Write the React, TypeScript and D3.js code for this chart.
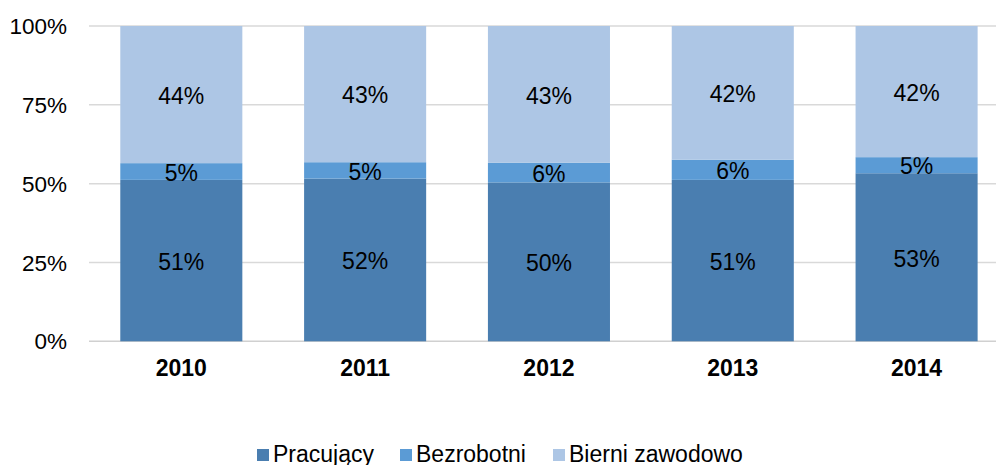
import React, { useEffect, useRef } from "react";
import * as d3 from "d3";

const years = ["2010", "2011", "2012", "2013", "2014"];
const pracujacy = [51.2, 51.6, 50.4, 51.2, 53.3];
const bezrobotni = [5.3, 5.2, 6.2, 6.4, 5.1];
const bierni = [43.5, 43.2, 43.4, 42.4, 41.6];
const seriesNames = ["Pracujący", "Bezrobotni", "Bierni zawodowo"];
const colors = ["#4a7eb0", "#5b9bd5", "#adc6e5"];
const yTicks = [0, 25, 50, 75, 100];

export default function App() {
  const svgRef = useRef<SVGSVGElement>(null);
  const W = 996;
  const H = 465;

  useEffect(() => {
    const svg = d3.select(svgRef.current);
    svg.selectAll("*").remove();
    const font = "'Liberation Sans', Arial, sans-serif";

    const rows = years.map((y, i) => ({
      year: y,
      p: pracujacy[i],
      b: bezrobotni[i],
      z: bierni[i],
    }));
    const keys = ["p", "b", "z"];
    const stacked = d3.stack<any>().keys(keys)(rows);

    const x = d3
      .scaleBand()
      .domain(years)
      .range([89.4, 1008.5])
      .paddingInner(0.336)
      .paddingOuter(0.168);
    const y = d3.scaleLinear().domain([0, 100]).range([341.3, 26]);

    // gridlines
    svg
      .append("g")
      .selectAll("line")
      .data(yTicks)
      .enter()
      .append("line")
      .attr("x1", 89)
      .attr("x2", W)
      .attr("y1", (d) => y(d))
      .attr("y2", (d) => y(d))
      .attr("stroke", (d) => (d === 0 ? "#d0d0d0" : "#d9d9d9"))
      .attr("stroke-width", 1.5);

    svg
      .append("g")
      .selectAll("text")
      .data(yTicks)
      .enter()
      .append("text")
      .attr("x", 67)
      .attr("y", (d) => y(d))
      .attr("dy", "0.36em")
      .attr("text-anchor", "end")
      .style("font-family", font)
      .style("font-size", "22.5px")
      .style("fill", "#000")
      .text((d) => d + "%");

    const layers = svg
      .append("g")
      .selectAll("g")
      .data(stacked)
      .enter()
      .append("g")
      .attr("fill", (_d, i) => colors[i]);

    layers
      .selectAll("rect")
      .data((d) => d)
      .enter()
      .append("rect")
      .attr("x", (d: any) => x(d.data.year)!)
      .attr("width", x.bandwidth())
      .attr("y", (d) => y(d[1]))
      .attr("height", (d) => y(d[0]) - y(d[1]));

    layers
      .selectAll("text")
      .data((d) => d)
      .enter()
      .append("text")
      .attr("x", (d: any) => x(d.data.year)! + x.bandwidth() / 2)
      .attr("y", (d) => (y(d[0]) + y(d[1])) / 2 + 1)
      .attr("dy", "0.36em")
      .attr("text-anchor", "middle")
      .style("font-family", font)
      .style("font-size", "23px")
      .style("fill", "#000")
      .text((d) => Math.round(d[1] - d[0]) + "%");

    svg
      .append("g")
      .selectAll("text")
      .data(years)
      .enter()
      .append("text")
      .attr("x", (d) => x(d)! + x.bandwidth() / 2)
      .attr("y", 368)
      .attr("dy", "0.36em")
      .attr("text-anchor", "middle")
      .style("font-family", font)
      .style("font-size", "23px")
      .style("font-weight", "bold")
      .style("fill", "#000")
      .text((d) => d);

    // legend
    const legendX = [257, 400, 553];
    const legend = svg
      .append("g")
      .selectAll("g")
      .data(seriesNames)
      .enter()
      .append("g")
      .attr("transform", (_d, i) => `translate(${legendX[i]},0)`);
    legend
      .append("rect")
      .attr("x", 0)
      .attr("y", 449)
      .attr("width", 12)
      .attr("height", 12)
      .attr("fill", (_d, i) => colors[i]);
    legend
      .append("text")
      .attr("x", 16)
      .attr("y", 461.5)
      .style("font-family", font)
      .style("font-size", "23px")
      .style("fill", "#000")
      .text((d) => d);
  }, []);

  return (
    <svg
      ref={svgRef}
      width={W}
      height={H}
      style={{ position: "absolute", left: 0, top: 0, background: "#fff" }}
    />
  );
}
